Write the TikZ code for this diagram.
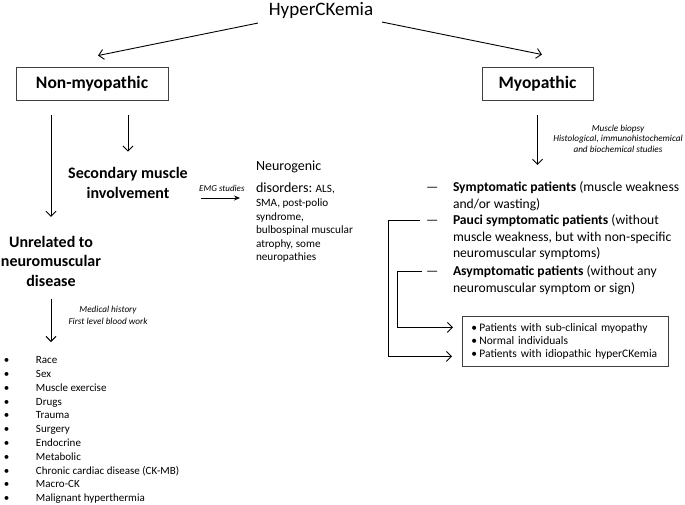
\documentclass[tikz,border=0pt]{standalone}
\usepackage{fontspec}
\setmainfont{Carlito}
\usetikzlibrary{positioning}
\usetikzlibrary{arrows.meta}

\begin{document}
\begin{tikzpicture}[x=1pt,y=-1pt,
  txt/.style={inner sep=0pt,outer sep=0pt},
  typebox/.style={draw=black!75,line width=0.9pt,inner sep=0pt,minimum height=33pt,font=\bfseries\fontsize{17.5}{21}\selectfont},
  head/.style={txt,align=center,font=\bfseries\fontsize{16}{19.5}\selectfont},
  note/.style={txt,align=center,font=\itshape\fontsize{9.2}{10.5}\selectfont},
  patient/.style={txt,anchor=base west,font=\fontsize{13.6}{16.6}\selectfont},
  arr/.style={-{Straight Barb[length=5pt,width=10pt]},line width=0.9pt}]
 \useasboundingbox (0,0) rectangle (685,504);
 % top level
 \node[txt,font=\fontsize{19}{22}\selectfont] (hyper) at (321,10.5) {HyperCKemia};
 \node[typebox,minimum width=152pt] (nonmyo) at (92,83.5) {Non-myopathic};
 \node[typebox,minimum width=111pt] (myo) at (537.5,83.5) {Myopathic};
 \draw[arr] ([xshift=-11pt,yshift=-4.5pt]hyper.south west) -- ([xshift=6pt,yshift=11pt]nonmyo.north);
 \draw[arr] ([xshift=9pt,yshift=-3.5pt]hyper.south east) -- ([xshift=4.5pt,yshift=12pt]myo.north);
 % non-myopathic branch
 \node[head] (second) at (128,183) {Secondary muscle\\involvement};
 \node[head] (unrel) at (51,261) {Unrelated to\\neuromuscular\\disease};
 \draw[arr,shorten <=15pt,shorten >=19pt] (nonmyo.south -| unrel.north) -- (unrel.north);
 \draw[arr,shorten <=15pt,shorten >=16pt] (nonmyo.south -| second.north) -- (second.north);
 \node[txt,anchor=north west,align=left,font=\fontsize{11.2}{13.5}\selectfont] (neuro) at (256,161)
   {{\fontsize{14}{14}\selectfont Neurogenic}\\[8.5pt]{\fontsize{14}{14}\selectfont disorders:} ALS,\\[0.5pt]SMA, post-polio\\syndrome,\\bulbospinal muscular\\atrophy, some\\neuropathies};
 \coordinate (emg) at (220,198);
 \draw[-{Stealth[length=6pt,width=5pt]},line width=0.9pt,shorten <=13pt,shorten >=16pt] (second.east |- emg) -- (neuro.west |- emg)
   node[midway,above=6pt,txt,font=\itshape\fontsize{9}{10}\selectfont] (emglbl) {EMG studies};
 \node[txt,anchor=north west,font=\fontsize{11}{13.8}\selectfont] (causes) at (4,354)
   {\begin{tabular}{@{}p{32pt}@{}l@{}}
   •&Race\\ •&Sex\\ •&Muscle exercise\\ •&Drugs\\ •&Trauma\\ •&Surgery\\ •&Endocrine\\
   •&Metabolic\\ •&Chronic cardiac disease (CK-MB)\\ •&Macro-CK\\ •&Malignant hyperthermia
   \end{tabular}};
 \draw[arr,shorten <=12.5pt,shorten >=12pt] (unrel.south) -- (unrel.south |- causes.north);
 \node[note,font=\itshape\fontsize{9.2}{12}\selectfont] (medhist) at (108,315) {Medical history\\First level blood work};
 % myopathic branch
 \node[note] (biopsy) at (618,138.5) {Muscle biopsy\\Histological, immunohistochemical\\and biochemical studies};
 \node[patient] (sympt) at (426,191.5) {\begin{tabular}[t]{@{}p{27pt}@{}l@{}}—&\textbf{Symptomatic patients} (muscle weakness\\&and/or wasting)\end{tabular}};
 \node[patient] (pauci) at (426,224.5) {\begin{tabular}[t]{@{}p{27pt}@{}l@{}}—&\textbf{Pauci symptomatic patients} (without\\&muscle weakness, but with non-specific\\&neuromuscular symptoms)\end{tabular}};
 \node[patient] (asympt) at (426,275.5) {\begin{tabular}[t]{@{}p{27pt}@{}l@{}}—&\textbf{Asymptomatic patients} (without any\\&neuromuscular symptom or sign)\end{tabular}};
 \draw[arr,shorten <=15pt,shorten >=15pt] (myo.south) -- (myo.south |- sympt.north);
 \node[draw=black!75,line width=0.9pt,anchor=north west,text width=188pt,inner xsep=9pt,inner ysep=5.5pt,font=\fontsize{11.5}{13}\selectfont] (groups) at (462,316)
   {\begin{tabular}{@{}p{8pt}@{}l@{}}•&Patients with sub-clinical myopathy\\ •&Normal individuals\\ •&Patients with idiopathic hyperCKemia\end{tabular}};
 \draw[arr] ([xshift=-6pt,yshift=4.5pt]pauci.base west) -- ++(-32,0) |- ([xshift=-10pt,yshift=-15pt]groups.west);
 \draw[arr] ([xshift=-4pt,yshift=4.5pt]asympt.base west) -- ++(-25,0) |- ([xshift=-9pt,yshift=14pt]groups.west);
\end{tikzpicture}
\end{document}
